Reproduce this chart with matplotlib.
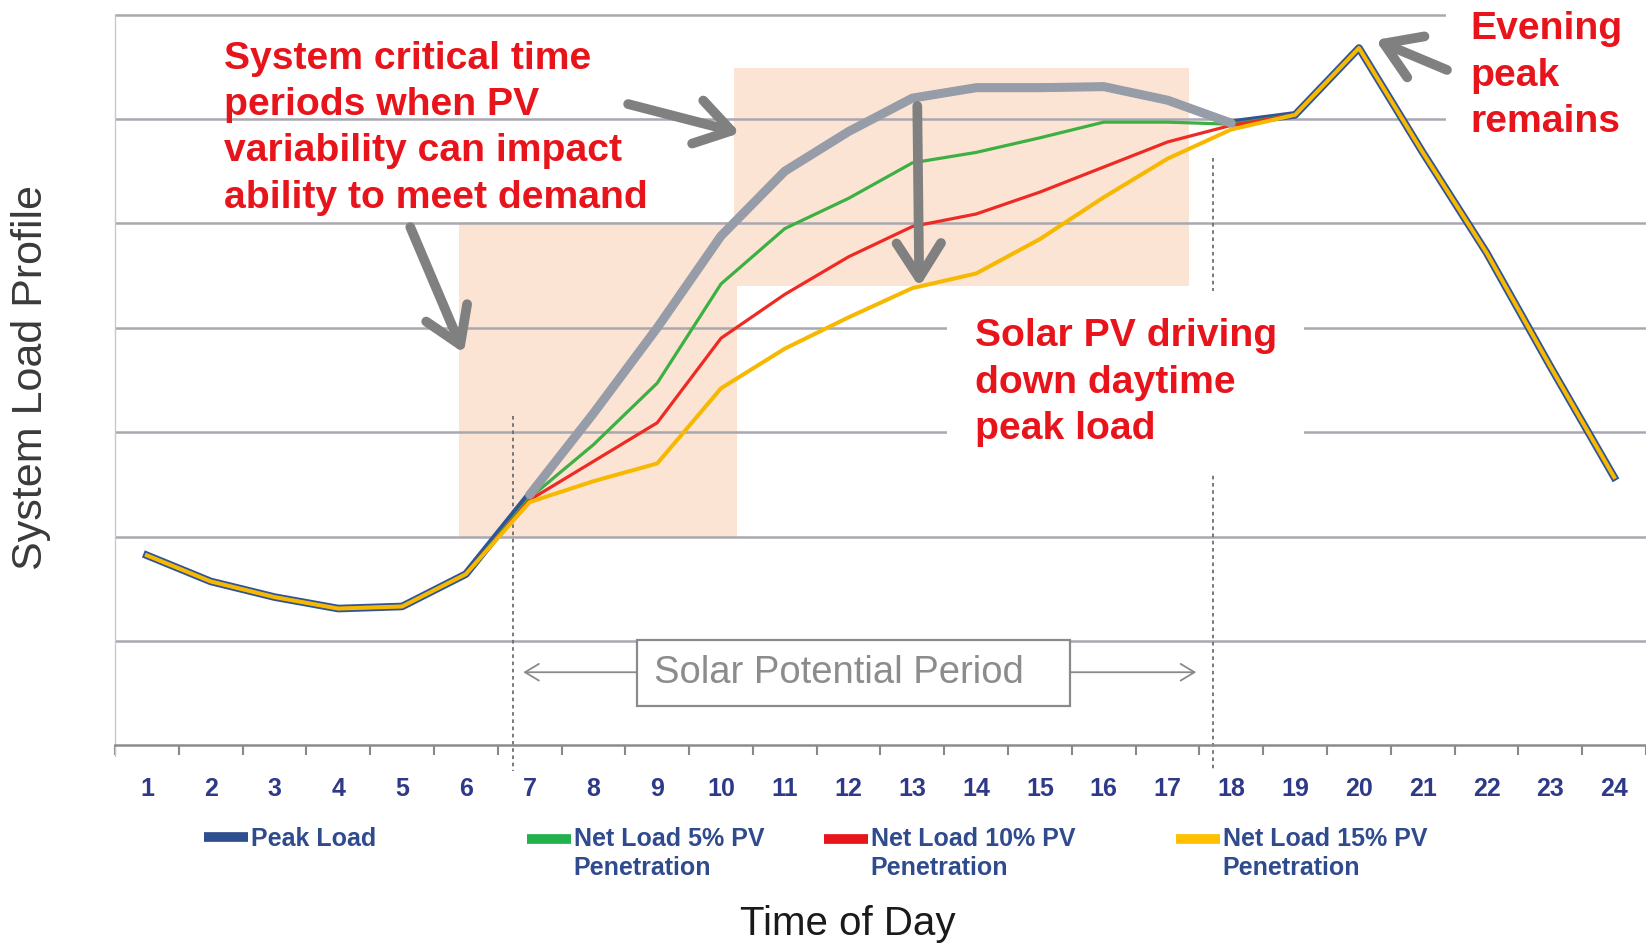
import matplotlib.pyplot as plt
import numpy as np
from matplotlib import font_manager
from matplotlib.legend_handler import HandlerLine2D
from matplotlib.lines import Line2D
from matplotlib.patches import Rectangle

hours = list(range(1, 25))
peak_load = [1.82, 1.57, 1.42, 1.31, 1.33, 1.64, 2.40, 3.18, 4.00, 4.88, 5.50, 5.88,
             6.20, 6.30, 6.30, 6.31, 6.18, 5.96, 6.04, 6.68, 5.68, 4.72, 3.63, 2.57]
net_load_5 = [1.82, 1.57, 1.42, 1.31, 1.33, 1.64, 2.37, 2.88, 3.47, 4.42, 4.95, 5.24,
              5.58, 5.68, 5.82, 5.97, 5.97, 5.95, 6.04, 6.68, 5.68, 4.72, 3.63, 2.57]
net_load_10 = [1.82, 1.57, 1.42, 1.31, 1.33, 1.64, 2.35, 2.72, 3.09, 3.90, 4.32, 4.68,
               4.97, 5.09, 5.30, 5.54, 5.78, 5.94, 6.04, 6.68, 5.68, 4.72, 3.63, 2.57]
net_load_15 = [1.82, 1.57, 1.42, 1.31, 1.33, 1.64, 2.33, 2.53, 2.70, 3.42, 3.80, 4.10,
               4.38, 4.52, 4.85, 5.25, 5.62, 5.90, 6.04, 6.68, 5.68, 4.72, 3.63, 2.57]
series_labels = ['Peak Load', 'Net Load 5% PV\nPenetration',
                 'Net Load 10% PV\nPenetration', 'Net Load 15% PV\nPenetration']
series_colors = ['#2E4F8F', '#22B14C', '#E8141B', '#FFC000']
legend_x_px = [204, 527, 824, 1176]

W, H = 1646, 946
RED = '#E8141C'
ARROW_GREY = '#808080'

names = {f.name for f in font_manager.fontManager.ttflist}
narrow = 'Liberation Sans Narrow' in names
small_font = 'Liberation Sans Narrow' if narrow else 'Liberation Sans'
small_size = 21 if narrow else 18


class FirstLineHandler(HandlerLine2D):
    # put the legend swatch next to the first line of a two-line label
    def __init__(self, lift, **kw):
        super().__init__(**kw)
        self.lift = lift

    def create_artists(self, legend, orig_handle, xdescent, ydescent, width, height, fontsize, trans):
        arts = super().create_artists(legend, orig_handle, xdescent, ydescent, width, height, fontsize, trans)
        for a in arts:
            a.set_ydata(np.asarray(a.get_ydata()) + self.lift)
        return arts


fig = plt.figure(figsize=(W / 100, H / 100), dpi=100)
ax = fig.add_axes([115 / W, (H - 745.3) / H, 1531 / W, 745.3 / H])
ax.set_xlim(0.503, 24.27)
ax.set_ylim(0, 7.14)

# shaded critical periods
ax.add_patch(Rectangle((5.89, 2.0), 10.25 - 5.89, 5.01 - 2.0, fc='#FCE4D4', ec='none', zorder=0.2))
ax.add_patch(Rectangle((10.2, 4.4), 17.33 - 10.2, 6.49 - 4.4, fc='#FCE4D4', ec='none', zorder=0.2))

# grid and axes
ax.set_axisbelow(True)
ax.set_yticks(range(1, 8))
ax.yaxis.grid(True, color='#A8A8B0', lw=1.8)
ax.tick_params(axis='y', length=0, labelleft=False)
ax.set_xticks(np.arange(0.5, 25, 1))
ax.set_xticks(hours, minor=True)
ax.set_xticklabels([str(h) for h in hours], minor=True)
ax.tick_params(axis='x', which='major', length=7, width=1.5, color='#888888', labelbottom=False)
ax.tick_params(axis='x', which='minor', length=0, pad=23, labelsize=small_size,
               labelcolor='#2E3A87', labelfontfamily=small_font)
for lab in ax.get_xticklabels(minor=True):
    lab.set_fontweight('bold')
for s in ['top', 'right']:
    ax.spines[s].set_visible(False)
ax.spines['bottom'].set_color('#8C8C8C')
ax.spines['bottom'].set_linewidth(1.8)
ax.spines['left'].set_color('#C8C8C8')
ax.spines['left'].set_linewidth(1.0)
ax.spines['left'].set_bounds(-0.1, 7)

# solar potential period markers
ax.plot([6.74, 6.74], [3.15, -0.25], ls=(0, (2, 2)), color='#6E6E6E', lw=1.3, clip_on=False, zorder=1)
ax.plot([17.72, 17.72], [5.63, -0.25], ls=(0, (2, 2)), color='#6E6E6E', lw=1.3, clip_on=False, zorder=1)

# load curves
ax.plot(hours, peak_load, color='#2F5597', lw=5.5, zorder=2)
ax.plot(hours, net_load_5, color='#3CB043', lw=2.3, zorder=3)
ax.plot(hours, net_load_10, color='#EE2A24', lw=2.3, zorder=3.1)
ax.plot(hours, net_load_15, color='#F6B800', lw=2.9, zorder=3.2)
ax.plot(hours[6:18], peak_load[6:18], color='#979DA8', lw=6.5, zorder=4, solid_capstyle='round')

# solar potential box
ax.add_patch(Rectangle((8.684, 0.377), 15.467 - 8.684, 1.009 - 0.377, fc='white', ec='#8A8A8A', lw=1.6,
                       zorder=5))
ax.text(11.85, 0.69, 'Solar Potential Period', ha='center', va='center', fontsize=27.5,
        family='Liberation Sans', color='#8C8C8C', zorder=6)
thin = dict(arrowstyle='->,head_length=0.5,head_width=0.3', color='#8A8A8A', lw=1.3, shrinkA=0, shrinkB=0,
            mutation_scale=20)
ax.annotate('', xy=(6.9, 0.7), xytext=(8.684, 0.7), arrowprops=thin, zorder=6)
ax.annotate('', xy=(17.45, 0.7), xytext=(15.467, 0.7), arrowprops=thin, zorder=6)

# annotations
note = dict(color=RED, fontsize=28.2, fontweight='bold', family='Liberation Sans', va='top', ha='left',
            linespacing=1.37, zorder=6)
ax.text(2.21, 6.75, 'System critical time\nperiods when PV\nvariability can impact\nability to meet demand',
        **note)
ax.text(13.98, 4.09, 'Solar PV driving\ndown daytime\npeak load',
        bbox=dict(boxstyle='square,pad=0.7', fc='white', ec='none'), **note)
ax.text(21.74, 7.03, 'Evening\npeak\nremains',
        bbox=dict(boxstyle='square,pad=0.6', fc='white', ec='none'), **note)

big = dict(arrowstyle='->,head_length=1.25,head_width=0.8', color=ARROW_GREY, lw=7, shrinkA=0, shrinkB=0,
           mutation_scale=20)
ax.annotate('', xy=(5.967, 3.757), xytext=(5.129, 4.964), arrowprops=big, zorder=7)
ax.annotate('', xy=(10.298, 5.866), xytext=(8.544, 6.143), arrowprops=big, zorder=7)
ax.annotate('', xy=(13.108, 4.391), xytext=(13.077, 6.125), arrowprops=big, zorder=7)
ax.annotate('', xy=(20.26, 6.757), xytext=(21.38, 6.47), arrowprops=big, zorder=7)

# axis titles
ax.set_ylabel('System Load Profile', fontsize=31, family='Liberation Sans', color='#3A3A3A', va='center')
ax.yaxis.set_label_coords((31.5 - 115) / 1531, 0.493)
ax.set_xlabel('Time of Day', fontsize=29, family='Liberation Sans', color='#1A1A1A', va='center')
ax.xaxis.set_label_coords((848 - 115) / 1531, (745.3 - 924) / 745.3)

# legend, one entry per block like the original
for i, lab in enumerate(series_labels):
    handle = Line2D([], [], color=series_colors[i], lw=7, solid_capstyle='butt')
    lift = 10.5 if '\n' in lab else 0
    leg = fig.legend([handle], [lab], loc='upper left', bbox_to_anchor=(legend_x_px[i] / W, 1 - 827 / H),
                     frameon=False, borderpad=0, borderaxespad=0, handlelength=1.75, handletextpad=0.12,
                     prop=dict(family=small_font, size=small_size, weight='bold'),
                     labelcolor='#2F4B8E', handler_map={handle: FirstLineHandler(lift)})
    for t in leg.get_texts():
        t.set_linespacing(1.24 if not narrow else 1.1)

fig.savefig('out.png', dpi=100)
